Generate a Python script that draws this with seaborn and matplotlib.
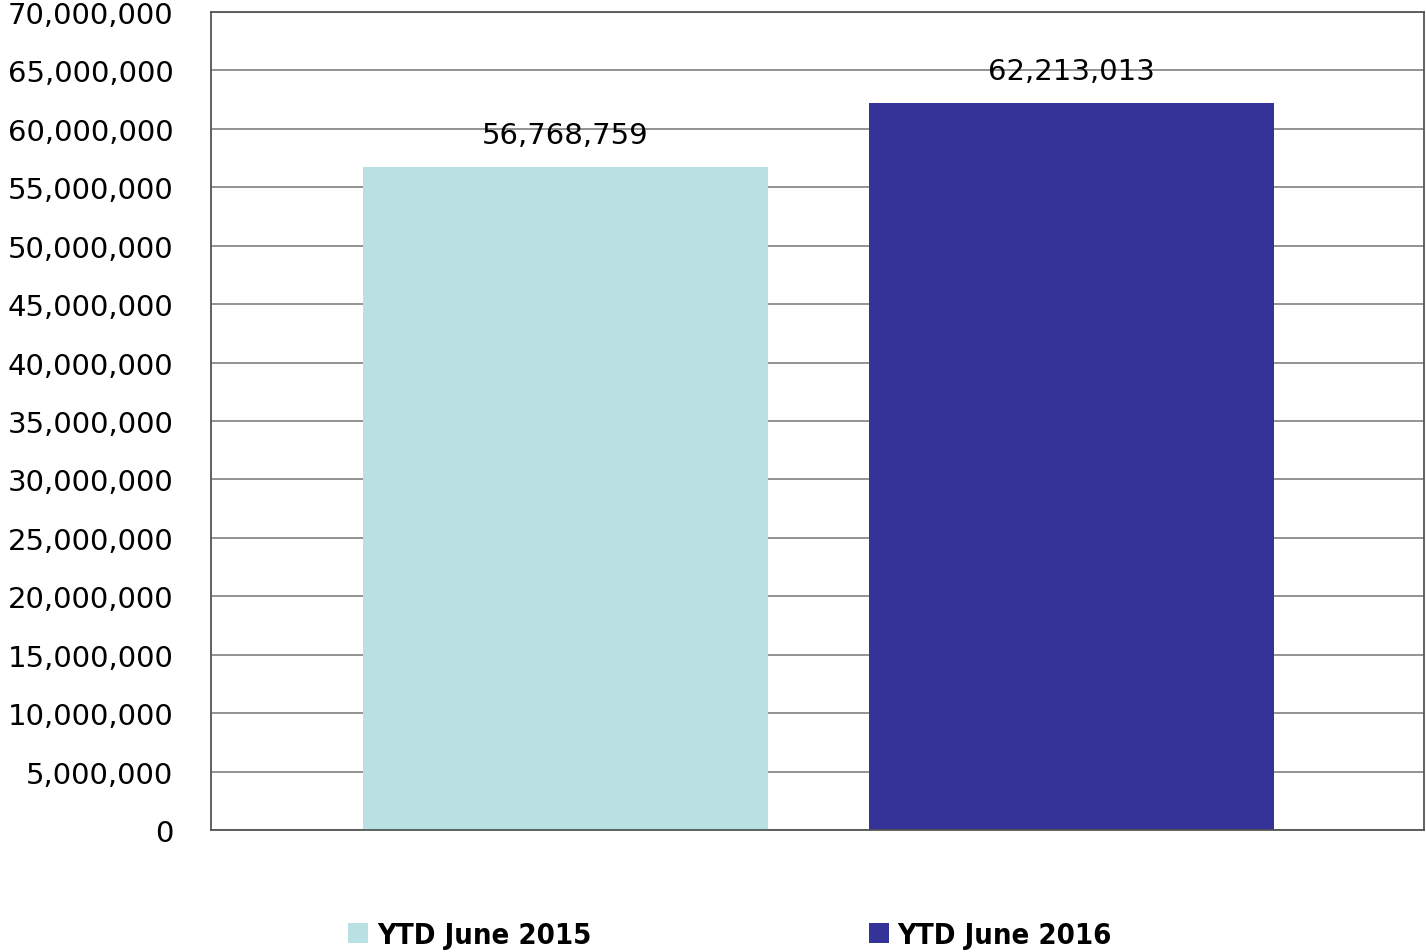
import matplotlib
matplotlib.use("Agg")
import matplotlib.pyplot as plt
import seaborn as sns
import pandas as pd
from matplotlib.patches import Patch
from matplotlib.ticker import FuncFormatter, MultipleLocator
from matplotlib.font_manager import FontProperties

categories = ["YTD June 2015", "YTD June 2016"]
values = [56768759, 62213013]
colors = ["#B9E0E3", "#353397"]

sns.set_theme(style="white")
plt.rcParams['font.family'] = ['DejaVu Sans']

df = pd.DataFrame({"period": categories, "value": values})

fig = plt.figure(figsize=(14.26, 9.53), dpi=100)
ax = fig.add_axes([211/1426, 1-831/953, (1424-211)/1426, (831-13)/953])

sns.barplot(data=df, x="period", y="value", hue="period", palette=colors,
            width=0.8, dodge=False, legend=False, ax=ax, saturation=1,
            linewidth=0)

ax.set_xlim(-0.7006, 1.697)
ax.set_ylim(0, 70000000)
ax.yaxis.set_major_locator(MultipleLocator(5000000))
ax.yaxis.set_major_formatter(FuncFormatter(lambda v, p: f"{int(v):,}"))
ax.set_xticks([])
ax.set_xlabel("")
ax.set_ylabel("")
ax.tick_params(axis="y", length=0, pad=27, labelsize=21, labelcolor="black")
ax.set_axisbelow(True)
ax.yaxis.grid(True, color="#8a8a8a", linewidth=1.3)

for s in ax.spines.values():
    s.set_visible(True)
    s.set_color("#555555")
    s.set_linewidth(1.3)

for cont in ax.containers:
    ax.bar_label(cont, labels=[f"{int(v):,}" for v in cont.datavalues],
                 padding=13, fontsize=21, color="black")

legend_font = FontProperties(family="DejaVu Sans", weight="bold", stretch="condensed", size=21)
handles = [Patch(facecolor=c, edgecolor="none", label=l) for c, l in zip(colors, categories)]
leg = fig.legend(handles=handles, loc="center", bbox_to_anchor=(730/1426, 1-936/953),
                 ncol=2, frameon=False, handlelength=0.7, handleheight=0.7,
                 handletextpad=0.3, columnspacing=9.5, prop=legend_font)
for t in leg.get_texts():
    t.set_color("black")

fig.savefig("out.png", dpi=100)
